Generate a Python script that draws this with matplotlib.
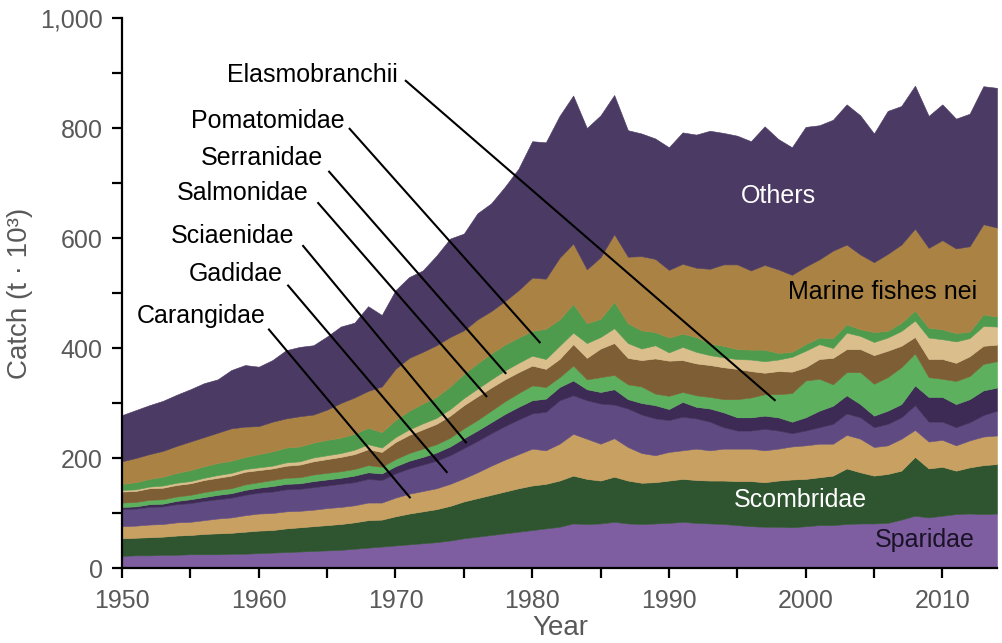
import matplotlib
matplotlib.use("Agg")
import matplotlib.pyplot as plt
from matplotlib.ticker import MultipleLocator, FuncFormatter
import numpy as np

plt.rcParams['font.family'] = ['Liberation Sans', 'DejaVu Sans']

years = list(range(1950, 2015))

sparidae = [22, 23, 23, 24, 24, 25, 25, 25, 26, 26,
            27, 28, 29, 30, 31, 32, 33, 35, 37, 39,
            41, 43, 45, 47, 50, 54, 57, 60, 63, 66,
            69, 72, 75, 81, 80, 81, 84, 81, 80, 81,
            82, 84, 82, 81, 80, 78, 76, 75, 75, 74,
            76, 78, 78, 80, 81, 81, 82, 88, 95, 92,
            95, 98, 99, 98, 99]
scombridae = [32, 32, 33, 33, 35, 35, 37, 38, 38, 40,
              41, 41, 43, 44, 45, 46, 47, 48, 50, 49,
              53, 56, 58, 60, 63, 67, 70, 73, 76, 79,
              81, 81, 84, 87, 82, 78, 82, 78, 75, 75,
              77, 78, 78, 78, 79, 80, 82, 81, 84, 87,
              86, 87, 90, 101, 93, 87, 89, 89, 107, 89,
              89, 79, 84, 89, 90]
carangidae = [22, 22, 23, 23, 24, 24, 25, 27, 28, 30,
              31, 31, 31, 30, 30, 31, 31, 31, 32, 31,
              34, 36, 37, 38, 40, 42, 47, 53, 58, 62,
              67, 61, 67, 76, 73, 67, 70, 61, 54, 49,
              52, 52, 57, 55, 58, 59, 59, 58, 58, 60,
              61, 61, 58, 61, 61, 52, 52, 58, 49, 49,
              49, 46, 49, 52, 52]
gadidae = [31, 31, 32, 32, 33, 34, 35, 35, 36, 37,
           38, 39, 40, 40, 41, 41, 42, 42, 43, 41,
           44, 46, 48, 50, 52, 55, 57, 59, 61, 63,
           64, 70, 79, 70, 70, 73, 61, 70, 70, 67,
           58, 61, 55, 52, 39, 33, 33, 39, 33, 24,
           27, 30, 36, 39, 39, 36, 39, 39, 45, 36,
           33, 33, 33, 39, 45]
sciaenidae = [4, 4, 5, 5, 6, 7, 7, 8, 8, 9,
              9, 10, 10, 10, 11, 11, 11, 12, 12, 12,
              13, 14, 14, 15, 16, 18, 19, 20, 22, 23,
              24, 24, 24, 27, 20, 21, 28, 17, 21, 24,
              20, 27, 21, 24, 27, 24, 24, 24, 24, 21,
              24, 30, 33, 33, 24, 21, 24, 24, 36, 45,
              45, 42, 42, 45, 42]
elasmobranchii = [8, 8, 8, 8, 8, 8, 9, 9, 9, 10,
                  10, 11, 11, 11, 12, 12, 12, 12, 13, 12,
                  13, 14, 15, 15, 16, 18, 19, 21, 23, 25,
                  27, 21, 18, 27, 18, 27, 26, 27, 30, 21,
                  24, 18, 21, 21, 24, 33, 36, 39, 42, 52,
                  67, 58, 39, 42, 58, 58, 61, 67, 58, 36,
                  33, 42, 42, 48, 48]
salmonidae = [20, 20, 21, 21, 21, 21, 22, 22, 23, 23,
              22, 21, 22, 23, 24, 25, 26, 27, 29, 27,
              31, 33, 35, 37, 40, 42, 43, 42, 40, 38,
              36, 33, 33, 39, 39, 52, 58, 48, 48, 64,
              64, 58, 58, 58, 58, 55, 48, 39, 42, 39,
              24, 36, 48, 42, 42, 52, 48, 39, 30, 33,
              36, 33, 36, 33, 30]
serranidae = [3, 3, 3, 4, 4, 4, 4, 5, 5, 5,
              5, 5, 6, 6, 7, 7, 7, 8, 9, 8,
              9, 10, 11, 11, 12, 13, 14, 15, 16, 17,
              18, 18, 24, 21, 27, 21, 27, 27, 21, 24,
              15, 24, 21, 18, 18, 18, 21, 21, 21, 27,
              30, 27, 18, 30, 24, 24, 24, 27, 30, 39,
              36, 39, 33, 36, 33]
pomatomidae = [11, 13, 14, 16, 18, 20, 21, 22, 22, 22,
               24, 26, 27, 27, 27, 28, 28, 29, 30, 28,
               31, 34, 36, 38, 41, 44, 46, 47, 47, 46,
               45, 55, 48, 52, 36, 33, 48, 36, 33, 24,
               27, 24, 27, 21, 21, 18, 18, 21, 12, 9,
               12, 12, 18, 15, 12, 18, 12, 15, 18, 18,
               18, 15, 12, 21, 18]
marine_nei = [41, 44, 45, 47, 49, 52, 53, 55, 59, 55,
              51, 54, 53, 55, 51, 55, 63, 66, 67, 83,
              93, 96, 94, 94, 90, 79, 80, 77, 79, 86,
              97, 91, 112, 110, 98, 112, 123, 121, 135, 133,
              123, 127, 126, 136, 148, 154, 144, 154, 152, 140,
              141, 142, 159, 145, 136, 127, 140, 142, 149, 145,
              162, 154, 155, 164, 162]
others = [84, 87, 89, 91, 93, 95, 98, 97, 106, 112,
          108, 112, 124, 126, 126, 133, 139, 136, 154, 130,
          143, 147, 148, 163, 179, 176, 193, 196, 208, 221,
          248, 248, 258, 269, 257, 258, 253, 230, 223, 219,
          223, 239, 242, 251, 239, 234, 235, 252, 237, 232,
          254, 244, 238, 255, 253, 234, 260, 252, 260, 240,
          247, 236, 241, 251, 254]

series = [sparidae, scombridae, carangidae, gadidae, sciaenidae, elasmobranchii,
          salmonidae, serranidae, pomatomidae, marine_nei, others]
names = ["Sparidae", "Scombridae", "Carangidae", "Gadidae", "Sciaenidae",
         "Elasmobranchii", "Salmonidae", "Serranidae", "Pomatomidae",
         "Marine fishes nei", "Others"]
colors = ["#7E5EA0", "#2F5530", "#C8A062", "#5F4B82", "#3D2B55", "#5DB05D",
          "#7E5E34", "#DABE8C", "#4E9B4E", "#AA8344", "#4B3A63"]

# callout labels: (text, text position, line start, line end) in data units
callouts = [
    ("Elasmobranchii", (1963.9, 896), (1970.7, 887), (1997.8, 304)),
    ("Pomatomidae", (1960.7, 813), (1966.6, 800), (1980.6, 409)),
    ("Serranidae", (1960.2, 745), (1965.1, 722), (1978.1, 353)),
    ("Salmonidae", (1958.8, 682), (1964.3, 665), (1976.7, 311)),
    ("Sciaenidae", (1958.1, 604), (1963.2, 587), (1975.2, 227)),
    ("Gadidae", (1958.3, 535), (1962.1, 515), (1973.8, 173)),
    ("Carangidae", (1955.8, 458), (1960.7, 435), (1971.1, 127)),
]
# in-area labels: (text, position, colour)
inlabels = [
    ("Others", (1998.0, 676), "white"),
    ("Marine fishes nei", (2005.6, 502), "black"),
    ("Scombridae", (1999.6, 124), "white"),
    ("Sparidae", (2008.7, 50), "#1a1226"),
]

fig = plt.figure(figsize=(10.03, 6.43), dpi=100)
ax = fig.add_axes([122/1003, 75/643, 875/1003, 550/643])

polys = ax.stackplot(years, *series, colors=colors, labels=names)
for p, c in zip(polys, colors):
    p.set_edgecolor(c)
    p.set_linewidth(0.4)

ax.set_xlim(1950, 2014)
ax.set_ylim(0, 1000)

for txt, tpos, l0, l1 in callouts:
    ax.plot([l0[0], l1[0]], [l0[1], l1[1]], color="black", lw=1.5,
            solid_capstyle="butt", zorder=5)
    ax.text(tpos[0], tpos[1], txt, ha="center", va="center", fontsize=18,
            color="black", zorder=6)

for txt, pos, col in inlabels:
    ax.text(pos[0], pos[1], txt, ha="center", va="center", fontsize=18,
            color=col, zorder=6)

gray = "#595959"
ax.xaxis.set_major_locator(MultipleLocator(10))
ax.xaxis.set_minor_locator(MultipleLocator(5))
ax.yaxis.set_major_locator(MultipleLocator(200))
ax.yaxis.set_minor_locator(MultipleLocator(100))
ax.yaxis.set_major_formatter(FuncFormatter(lambda v, p: f"{int(v):,}"))

ax.tick_params(axis="both", which="both", direction="out", length=7, width=1.6,
               color="black")
ax.tick_params(axis="both", which="major", labelsize=18, labelcolor=gray)
ax.tick_params(axis="x", which="major", pad=8)
ax.tick_params(axis="y", which="major", pad=7)

for s in ["top", "right"]:
    ax.spines[s].set_visible(False)
for s in ["left", "bottom"]:
    ax.spines[s].set_linewidth(1.6)
    ax.spines[s].set_color("black")

ax.set_xlabel("Year", fontsize=20, color=gray)
ax.set_ylabel("Catch (t \u00b7 10\u00b3)", fontsize=20, color=gray)
ax.xaxis.set_label_coords(0.5006, -0.109)
ax.xaxis.label.set_va("center")
ax.yaxis.set_label_coords(-0.117, 0.5)
ax.yaxis.label.set_va("center")

fig.savefig("out.png", dpi=100)
